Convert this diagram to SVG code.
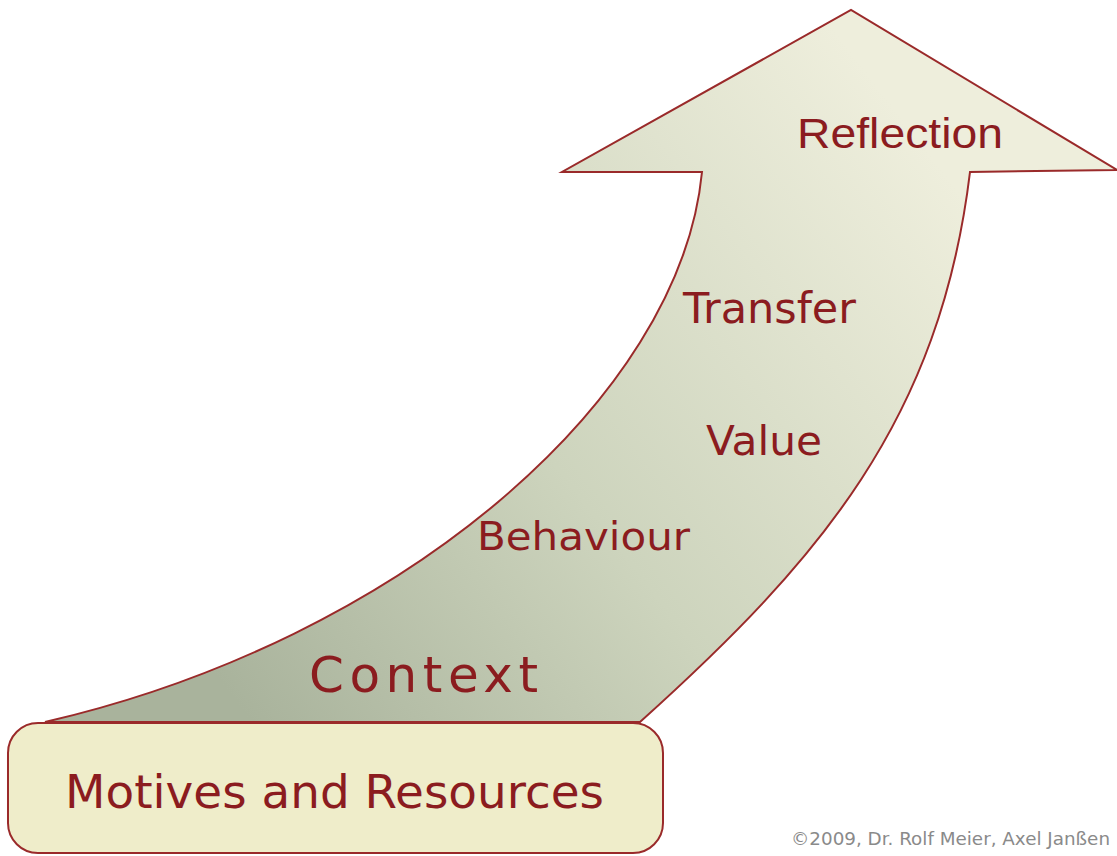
<svg xmlns="http://www.w3.org/2000/svg" width="1117" height="856" viewBox="0 0 1117 856">
<defs>
<linearGradient id="g" gradientUnits="userSpaceOnUse" x1="250" y1="720" x2="950" y2="180">
<stop offset="0" stop-color="#a9b39c"/>
<stop offset="0.45" stop-color="#cdd4bd"/>
<stop offset="1" stop-color="#eeeedc"/>
</linearGradient>
<style>
.lbl{fill:#8b1c1f;font-family:"DejaVu Sans",Verdana,sans-serif}
.sh{stroke:#9a2a2a;stroke-width:2}
</style>
</defs>
<rect width="1117" height="856" fill="#ffffff"/>
<g id="arrow">
<path class="sh" fill="url(#g)" d="M45,722 C400,640 680,400 702,172 L562,172 L851,10 L1117,170 L970,172 C940,420 820,560 640,722 Z"/>
<text class="lbl" x="797" y="148" font-size="42" textLength="206" lengthAdjust="spacingAndGlyphs" style="font-family:'Liberation Sans',Arial,sans-serif">Reflection</text>
<text class="lbl" x="683" y="323" font-size="43" textLength="173" lengthAdjust="spacingAndGlyphs">Transfer</text>
<text class="lbl" x="706" y="455" font-size="41" textLength="116" lengthAdjust="spacingAndGlyphs">Value</text>
<text class="lbl" x="477" y="550" font-size="39" textLength="213" lengthAdjust="spacingAndGlyphs">Behaviour</text>
<text class="lbl" x="309" y="692" font-size="50" textLength="229" lengthAdjust="spacing">Context</text>
</g>
<g id="base">
<rect class="sh" x="8" y="723" width="655" height="130" rx="30" fill="#efedca"/>
<text class="lbl" x="65" y="808" font-size="47" textLength="539" lengthAdjust="spacingAndGlyphs">Motives and Resources</text>
</g>
<g id="copyright">
<text x="791" y="845" font-size="17" fill="#8a8a8a" font-family="DejaVu Sans,Verdana,sans-serif" textLength="319" lengthAdjust="spacingAndGlyphs">©2009, Dr. Rolf Meier, Axel Janßen</text>
</g>
</svg>
